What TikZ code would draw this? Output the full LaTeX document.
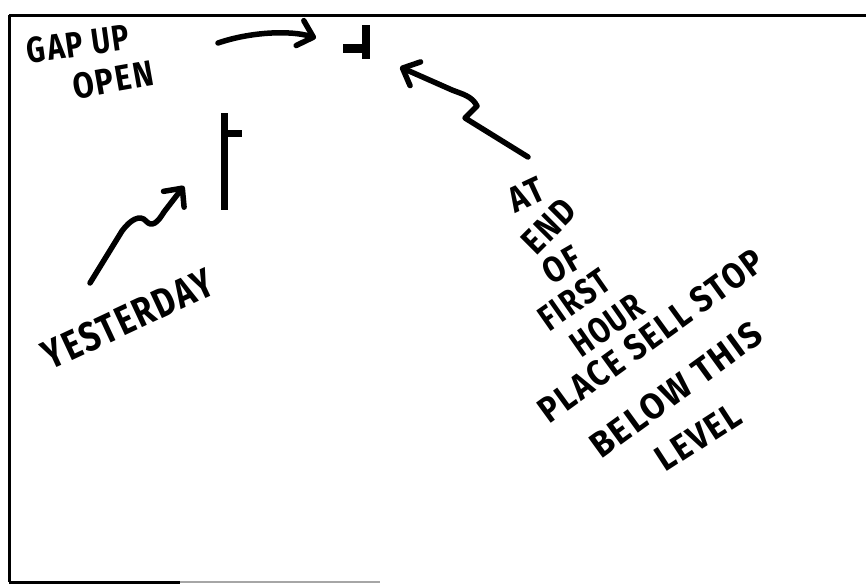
\documentclass[tikz,border=0pt]{standalone}
\usepackage{fontspec}
\usepackage{graphicx}
\setmainfont{Fira Sans}[LetterSpace=6]
\usetikzlibrary{arrows.meta}
\newcommand{\hw}[2][0.85]{\scalebox{#1}[1]{#2}}
\begin{document}
\begin{tikzpicture}[x=1pt,y=-1pt,
  hand/.style={font=\fontsize{36}{36}\selectfont\bfseries, inner sep=0pt, text=black},
  frameline/.style={line width=3pt, black},
  bar/.style={line width=7pt, black},
  pen/.style={line width=5.5pt, black, line cap=round, line join=round,
     -{Straight Barb[length=14pt,width=26pt,line cap=round,line join=round]}}
]
\useasboundingbox (0,0) rectangle (866,584);
\fill[white] (0,0) rectangle (866,584);
% frame
\draw[frameline] (9,15) -- (866,15);
\draw[frameline] (9,15) -- (9,582);
\draw[frameline] (9,582) -- (180,582);
\draw[line width=1.5pt, black!35] (180,582) -- (380,582);

% bars
\draw[bar] (224,113) -- (224,210);
\draw[bar] (224,133) -- (242,133);
\draw[line width=8pt] (366,25) -- (366,59);
\draw[line width=9pt] (343,48) -- (366,48);
\coordinate (openbar) at (316,38);
\coordinate (yestbar) at (184,186);
\coordinate (stoplvl) at (400,67);

% texts
\node[hand, rotate=8] (gap) at (78,44) {\hw[0.8]{GAP UP}};
\node[hand, rotate=10] (open) at (113,80) {\hw[0.85]{OPEN}};
\node[hand, rotate=25, font=\fontsize{41}{41}\selectfont\bfseries] (yest) at (128,319) {\hw[0.8]{YESTERDAY}};
\node[hand, rotate=25] (at) at (526,195) {\hw{AT}};
\node[hand, rotate=45] (end) at (549,226) {\hw{END}};
\node[hand, rotate=30] (of) at (562,265) {\hw{OF}};
\node[hand, rotate=35] (first) at (574,300) {\hw[0.8]{FIRST}};
\node[hand, rotate=35] (hour) at (607,325) {\hw[0.8]{HOUR}};
\node[hand, rotate=36] (place) at (651,336) {\hw[0.88]{PLACE SELL STOP}};
\node[hand, rotate=36] (below) at (676,390) {\hw[0.95]{BELOW THIS}};
\node[hand, rotate=33] (level) at (698,437) {\hw[0.9]{LEVEL}};

% arrows
\coordinate (a1) at (218,43);
\draw[pen] (a1) .. controls (250,32) and (290,30) .. (openbar);
\coordinate (a2) at (90,283);
\draw[pen] (a2) -- (122,231) .. controls (130,220) and (140,214) .. (146,221)
  .. controls (152,228) and (158,222) .. (164,212) -- (yestbar);
\coordinate (a3) at (528,157);
\draw[pen] (a3) -- (465,118) -- (477,106) .. controls (472,96) and (462,94) .. (452,90) -- (stoplvl);
\end{tikzpicture}
\end{document}
